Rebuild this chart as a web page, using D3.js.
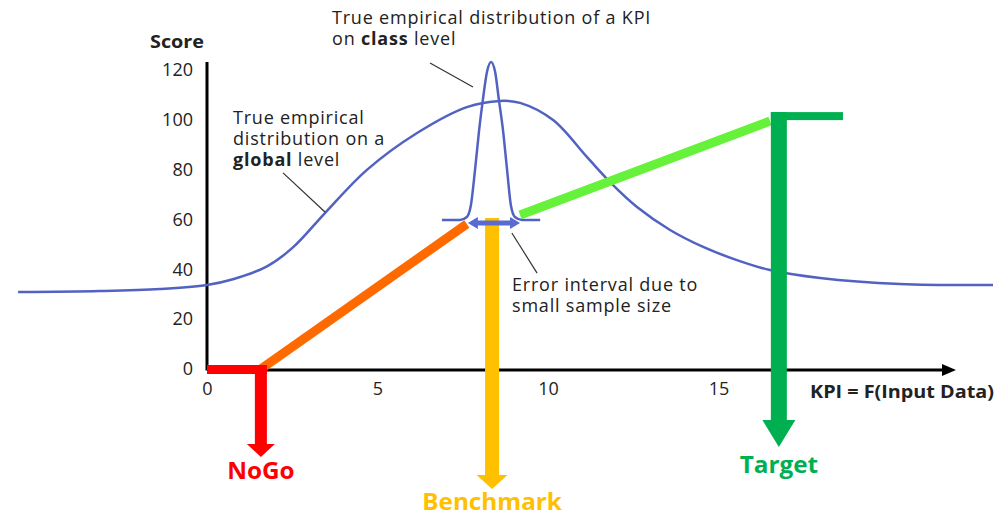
<!DOCTYPE html>
<html lang="en">
    <head>
        <meta charset="utf-8">
        <title>KPI score</title>
        <style>
            body { margin: 0; background: #fff; }
            text { font-family: "Open Sans", sans-serif; fill: #222; }
        </style>
    </head>
    <body>
        <div id="chart"></div>
        <script src="https://d3js.org/d3.v7.min.js"></script>
        <script>
            // values (x = KPI, y = score)
            const xTicks = [0, 5, 10, 15];
            const yTicks = [0, 20, 40, 60, 80, 100, 120];

            const globalX = [-5.54, -3.14, -1.38, 0, 0.76, 1.76, 2.52, 3.46, 4.69, 6.16, 7.62, 8.59, 9.18, 10.15, 11.14, 11.82, 12.61, 13.58, 14.55, 15.54, 16.51, 17.98, 20.32, 23.05];
            const globalY = [30.9, 31.3, 32.1, 33.7, 36.0, 41.2, 48.8, 62.6, 79.9, 94.7, 105.1, 107.6, 106.8, 99.9, 85.1, 75.0, 65.0, 55.8, 49.0, 43.7, 39.7, 36.5, 34.1, 33.7];

            const classX = [6.89, 7.42, 7.62, 7.74, 7.86, 7.98, 8.09, 8.21, 8.33, 8.45, 8.56, 8.68, 8.80, 8.91, 9.03, 9.24, 9.77];
            const classY = [59.8, 59.8, 61.0, 65.8, 79.9, 95.9, 108, 119.2, 123.2, 119.2, 108, 95.9, 79.9, 65.8, 61.0, 59.8, 59.8];

            // score function pieces
            const nogoX = 1.58, benchX = 8.36, targetX = 16.77;
            const orangeX = [1.58, 7.62], orangeY = [0, 58.2];
            const limeX = [9.18, 16.51], limeY = [61.8, 99.5];
            const targetTopY = 101.5, targetEndX = 18.65;
            const benchTopY = 60.6;
            const errorX = [7.65, 9.18], errorY = 58.6;

            const width = 1003, height = 517;
            const x = d3.scaleLinear().domain([0, 20]).range([207, 889]);
            const y = d3.scaleLinear().domain([0, 120]).range([369, 70]);

            const svg = d3.select("#chart").append("svg")
                .attr("width", width)
                .attr("height", height);

            // axes
            const yAxis = svg.append("g")
                .attr("transform", "translate(207,0)")
                .call(d3.axisLeft(y).tickValues(yTicks).tickSize(0).tickPadding(14));
            yAxis.select(".domain").remove();
            yAxis.selectAll("text").attr("font-size", 18).attr("font-family", "Open Sans");

            const xAxis = svg.append("g")
                .attr("transform", "translate(0,380)")
                .call(d3.axisBottom(x).tickValues(xTicks).tickSize(0).tickPadding(2));
            xAxis.select(".domain").remove();
            xAxis.selectAll("text").attr("font-size", 18).attr("font-family", "Open Sans");

            svg.append("line")
                .attr("x1", 207).attr("x2", 207)
                .attr("y1", 62).attr("y2", y(0) + 1.5)
                .attr("stroke", "#000").attr("stroke-width", 3);
            svg.append("line")
                .attr("x1", 207).attr("x2", 944)
                .attr("y1", y(0) + 1).attr("y2", y(0) + 1)
                .attr("stroke", "#000").attr("stroke-width", 3);
            svg.append("path")
                .attr("d", `M942,${y(0) - 5}L956,${y(0) + 1}L942,${y(0) + 7}Z`)
                .attr("fill", "#000");

            svg.append("text")
                .attr("transform", "translate(177,48) scale(1.1,1)")
                .attr("text-anchor", "middle")
                .attr("font-size", 18).attr("font-weight", "bold")
                .text("Score");
            svg.append("text")
                .attr("transform", "translate(810,398) scale(1.1,1)")
                .attr("font-size", 18).attr("font-weight", "bold")
                .text("KPI = F(Input Data)");

            // distributions
            const line = d3.line()
                .x(d => x(d[0]))
                .y(d => y(d[1]))
                .curve(d3.curveCatmullRom.alpha(0.5));

            svg.append("path")
                .attr("d", line(d3.zip(globalX, globalY)))
                .attr("fill", "none")
                .attr("stroke", "#5262c2")
                .attr("stroke-width", 2.5);
            svg.append("path")
                .attr("d", line.curve(d3.curveMonotoneX)(d3.zip(classX, classY)))
                .attr("fill", "none")
                .attr("stroke", "#5262c2")
                .attr("stroke-width", 2.5);

            // score segments
            svg.append("line")
                .attr("x1", x(orangeX[0])).attr("y1", y(orangeY[0]))
                .attr("x2", x(orangeX[1])).attr("y2", y(orangeY[1]))
                .attr("stroke", "#ff6a00").attr("stroke-width", 9);
            svg.append("line")
                .attr("x1", x(limeX[0])).attr("y1", y(limeY[0]))
                .attr("x2", x(limeX[1])).attr("y2", y(limeY[1]))
                .attr("stroke", "#66f23a").attr("stroke-width", 9);

            function downArrow(cx, top, tip, shaft, head, headLen, color) {
                svg.append("rect")
                    .attr("x", cx - shaft / 2).attr("y", top)
                    .attr("width", shaft).attr("height", tip - headLen - top + 1)
                    .attr("fill", color);
                svg.append("path")
                    .attr("d", `M${cx - head / 2},${tip - headLen}L${cx + head / 2},${tip - headLen}L${cx},${tip}Z`)
                    .attr("fill", color);
            }

            // NoGo
            svg.append("rect")
                .attr("x", x(0)).attr("y", y(0) - 4)
                .attr("width", x(nogoX) - x(0) + 6).attr("height", 9)
                .attr("fill", "#ff0000");
            downArrow(x(nogoX), y(0) - 4, 457, 12, 28, 13, "#ff0000");

            // Benchmark
            downArrow(x(benchX), y(benchTopY), 489, 14, 31, 14, "#ffc000");

            // Target
            svg.append("rect")
                .attr("x", x(targetX) - 8).attr("y", y(targetTopY) - 4)
                .attr("width", x(targetEndX) - x(targetX) + 8).attr("height", 8)
                .attr("fill", "#00b050");
            downArrow(x(targetX), y(targetTopY) - 4, 447, 16, 33, 27, "#00b050");

            // error interval
            const ex0 = x(errorX[0]), ex1 = x(errorX[1]), ey = y(errorY);
            svg.append("line")
                .attr("x1", ex0 + 8).attr("x2", ex1 - 8)
                .attr("y1", ey).attr("y2", ey)
                .attr("stroke", "#5a6ad2").attr("stroke-width", 5);
            svg.append("path")
                .attr("d", `M${ex0},${ey}L${ex0 + 10},${ey - 6}L${ex0 + 10},${ey + 6}Z M${ex1},${ey}L${ex1 - 10},${ey - 6}L${ex1 - 10},${ey + 6}Z`)
                .attr("fill", "#5a6ad2");

            // annotations
            const leaders = [
                [[6.54, 122.8], [7.80, 113.2]],
                [[2.23, 78.7], [3.46, 63.0]],
                [[8.94, 54.6], [9.68, 38.5]]
            ];
            leaders.forEach(l => {
                svg.append("line")
                    .attr("x1", x(l[0][0])).attr("y1", y(l[0][1]))
                    .attr("x2", x(l[1][0])).attr("y2", y(l[1][1]))
                    .attr("stroke", "#333").attr("stroke-width", 1.2);
            });

            function note(px, py, lines) {
                lines.forEach((parts, i) => {
                    const t = svg.append("text")
                        .attr("x", px).attr("y", py + i * 21)
                        .attr("font-size", 18)
                        .attr("letter-spacing", 0.8);
                    parts.forEach(p => {
                        const s = t.append("tspan").text(p[0]);
                        if (p[1]) s.attr("font-weight", "bold");
                    });
                });
            }
            note(332, 24, [[["True empirical distribution of a KPI"]], [["on "], ["class", true], [" level"]]]);
            note(233, 124, [[["True empirical"]], [["distribution on a"]], [["global", true], [" level"]]]);
            note(512, 291, [[["Error interval due to"]], [["small sample size"]]]);

            // threshold labels
            const labels = [
                ["NoGo", nogoX, 479, "#ff0000"],
                ["Benchmark", benchX, 510, "#ffc000"],
                ["Target", targetX, 473, "#00b050"]
            ];
            labels.forEach(d => {
                svg.append("text")
                    .attr("transform", `translate(${x(d[1])},${d[2]}) scale(1.08,1)`)
                    .attr("text-anchor", "middle")
                    .attr("font-size", 22.5).attr("font-weight", "bold")
                    .style("fill", d[3])
                    .text(d[0]);
            });
        </script>
    </body>
</html>
